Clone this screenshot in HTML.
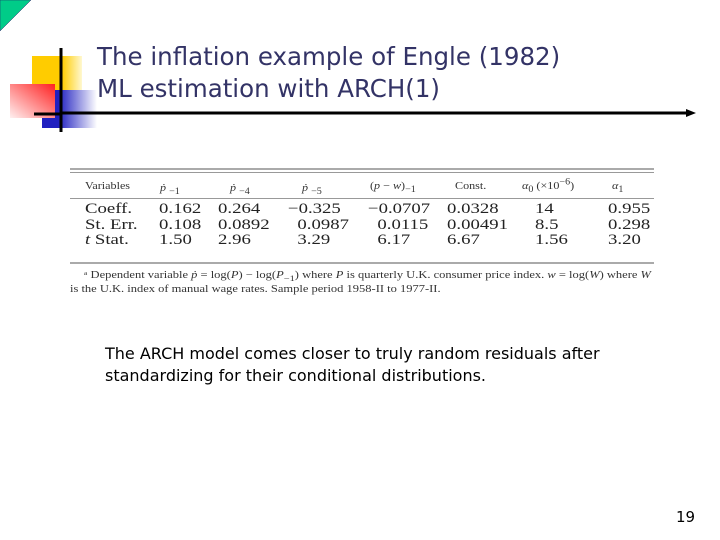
<!DOCTYPE html>
<html><head><meta charset="utf-8"><style>
body{margin:0;width:720px;height:540px;background:#fff;position:relative;overflow:hidden;font-family:"Liberation Sans",sans-serif}
.a{position:absolute;white-space:nowrap}
.t{font-family:"Liberation Serif",serif;font-size:15px;color:#222;transform:scaleX(1.25);transform-origin:0 0;line-height:15.5px}
.h{font-family:"Liberation Serif",serif;font-size:11px;color:#333;line-height:12px;transform:scaleX(1.1);transform-origin:0 0}
.h sub,.h sup{line-height:0}
.f{font-family:"Liberation Serif",serif;font-size:10.5px;color:#333;transform:scaleX(1.19);transform-origin:0 0}
.f sub{line-height:0}
.ln{position:absolute;background:#888;height:1px}
</style></head><body>
<svg class="a" style="left:0;top:0" width="720" height="540">
<defs>
<linearGradient id="gy" x1="0" x2="1"><stop offset="0.6" stop-color="#ffcc00"/><stop offset="1" stop-color="#fff8d0"/></linearGradient>
<linearGradient id="gr" x1="1" x2="0" y1="0" y2="1"><stop offset="0" stop-color="#ff2020"/><stop offset="1" stop-color="#fff0f0"/></linearGradient>
<linearGradient id="gb" x1="0" x2="1"><stop offset="0.3" stop-color="#2020c0"/><stop offset="1" stop-color="#ffffff"/></linearGradient>
</defs>
<polygon points="0,0 31,0 0,31" fill="#00cc88" stroke="#226" stroke-width="0.5"/>
<rect x="32" y="56" width="50" height="46" fill="url(#gy)"/>
<rect x="42" y="90" width="55" height="38" fill="url(#gb)"/>
<rect x="10" y="84" width="45" height="34" fill="url(#gr)"/>
<line x1="61" y1="48" x2="61" y2="132" stroke="#000" stroke-width="3"/>
<line x1="34" y1="114" x2="60" y2="114" stroke="#000" stroke-width="3"/>
<line x1="60" y1="113" x2="688" y2="113" stroke="#000" stroke-width="3"/>
<polygon points="686,109 696,113 686,117" fill="#000"/>
</svg>
<div class="a" style="left:97px;top:41px;font-family:'DejaVu Sans',sans-serif;font-size:24.5px;color:#333366;line-height:32px">The inflation example of Engle (1982)<br>ML estimation with ARCH(1)</div>

<div>
<div class="ln" style="left:70px;top:168px;width:584px;height:2px;background:#aaa"></div>
<div class="ln" style="left:70px;top:172px;width:584px;background:#999"></div>
<div class="ln" style="left:70px;top:198px;width:584px;background:#999"></div>
<div class="ln" style="left:70px;top:262px;width:584px;height:2px;background:#aaa"></div>
<div class="a h" style="left:85px;top:180px">Variables</div>
<div class="a h" style="left:160px;top:182px"><i>ṗ</i> <sub>−1</sub></div>
<div class="a h" style="left:230px;top:182px"><i>ṗ</i> <sub>−4</sub></div>
<div class="a h" style="left:302px;top:182px"><i>ṗ</i> <sub>−5</sub></div>
<div class="a h" style="left:370px;top:180px">(<i>p</i> − <i>w</i>)<sub>−1</sub></div>
<div class="a h" style="left:455px;top:180px">Const.</div>
<div class="a h" style="left:522px;top:180px"><i>α</i><sub>0</sub> (×10<sup>−6</sup>)</div>
<div class="a h" style="left:612px;top:180px"><i>α</i><sub>1</sub></div>

<div class="a t" style="left:85px;top:202px">Coeff.<br>St. Err.<br><i>t</i> Stat.</div>
<div class="a t" style="left:159px;top:202px">0.162<br>0.108<br>1.50</div>
<div class="a t" style="left:218px;top:202px">0.264<br>0.0892<br>2.96</div>
<div class="a t" style="left:288px;top:202px">−0.325<br>&nbsp;&nbsp;0.0987<br>&nbsp;&nbsp;3.29</div>
<div class="a t" style="left:368px;top:202px">−0.0707<br>&nbsp;&nbsp;0.0115<br>&nbsp;&nbsp;6.17</div>
<div class="a t" style="left:447px;top:202px">0.0328<br>0.00491<br>6.67</div>
<div class="a t" style="left:535px;top:202px">14<br>8.5<br>1.56</div>
<div class="a t" style="left:608px;top:202px">0.955<br>0.298<br>3.20</div>
<div class="a f" style="left:84px;top:270px">ᵃ Dependent variable <i>ṗ</i> = log(<i>P</i>) − log(<i>P</i><sub>−1</sub>) where <i>P</i> is quarterly U.K. consumer price index. <i>w</i> = log(<i>W</i>) where <i>W</i></div>
<div class="a f" style="left:70px;top:284px">is the U.K. index of manual wage rates. Sample period 1958-II to 1977-II.</div>
</div>

<div class="a" style="left:105px;top:343px;font-family:'DejaVu Sans',sans-serif;font-size:16px;line-height:22px;color:#000">The ARCH model comes closer to truly random residuals after<br>standardizing for their conditional distributions.</div>
<div class="a" style="left:676px;top:508px;font-family:'DejaVu Sans',sans-serif;font-size:15px;color:#000">19</div>
</body></html>
